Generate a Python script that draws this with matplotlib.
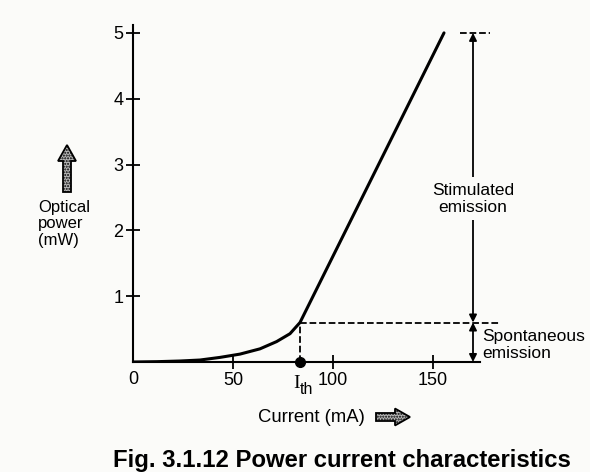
import numpy as np
import matplotlib.pyplot as plt
from matplotlib.patches import FancyArrow

plt.rcParams['font.family'] = ['Liberation Sans', 'DejaVu Sans']

# laser diode P-I curve (mA, mW)
current = [0, 12, 23.5, 33.5, 43.5, 53.5, 63.5, 71.8, 78.5, 83.5, 155.5]
power = [0, 0.005, 0.015, 0.03, 0.07, 0.12, 0.2, 0.31, 0.43, 0.6, 5.0]
i_th = 83.5
p_th = 0.6
p_top = 5.0
i_marker = 170
xticks = [0, 50, 100, 150]
yticks = [1, 2, 3, 4, 5]

bg = '#fbfbf9'
fig = plt.figure(figsize=(5.9, 4.72), dpi=100)
fig.patch.set_facecolor(bg)
ax = fig.add_axes([133/590, 110/472, 347/590, 337/472])
ax.set_facecolor('none')

ax.plot(current, power, 'k-', lw=2.2, solid_capstyle='round', solid_joinstyle='round')
ax.set_xlim(0, 173.5)
ax.set_ylim(0, 5.12)

for s in ['top', 'right']:
    ax.spines[s].set_visible(False)
for s in ['left', 'bottom']:
    ax.spines[s].set_linewidth(1.5)

ax.set_xticks(xticks[1:])
ax.set_xticklabels([str(v) for v in xticks[1:]])
ax.set_yticks(yticks)
ax.tick_params(direction='inout', length=10, width=1.3, labelsize=13, pad=2)
ax.text(0, -0.14, '0', ha='center', va='top', fontsize=13)

# threshold
ax.plot([i_th], [0], 'ko', ms=7, clip_on=False, zorder=5)
ax.plot([i_th, i_th], [0, p_th], 'k--', lw=1.3)
ax.plot([i_th, 183.5], [p_th, p_th], 'k--', lw=1.3, clip_on=False)
ax.plot([163.5, 178.5], [p_top, p_top], 'k--', lw=1.3, clip_on=False)
ax.text(i_th - 0.3, -0.2, 'I', ha='right', va='top', fontsize=14, family='Liberation Serif')
ax.text(i_th, -0.3, 'th', ha='left', va='top', fontsize=11.5)

# emission arrows
arr = dict(arrowstyle='<|-|>', color='k', lw=1.3, mutation_scale=11, shrinkA=0, shrinkB=0)
ax.annotate('', xy=(i_marker, 0), xytext=(i_marker, p_th), arrowprops=arr, annotation_clip=False)
ax.annotate('', xy=(i_marker, p_th), xytext=(i_marker, p_top), arrowprops=arr, annotation_clip=False)
ax.text(i_marker, 2.48, 'Stimulated\nemission', ha='center', va='center', fontsize=12.5,
        linespacing=1.15, bbox=dict(facecolor=bg, edgecolor='none', pad=4))
ax.text(174.5, 0.26, 'Spontaneous\nemission', ha='left', va='center', fontsize=12.5,
        linespacing=1.15, clip_on=False)

# axis labels with hatched arrows
fig.text(38/590, 1 - 200/472, 'Optical\npower\n(mW)', ha='left', va='top',
         fontsize=12, linespacing=1.12)
up = FancyArrow(67/590, 1 - 192/472, 0, 47/472, width=8/590, head_width=18/590,
                head_length=16/472, length_includes_head=True, transform=fig.transFigure,
                facecolor='#b8b8b8', edgecolor='k', hatch='......', lw=1.3)
fig.patches.append(up)
fig.text(258/590, 1 - 418/472, 'Current (mA)', ha='left', va='center', fontsize=13.3)
right = FancyArrow(376/590, 1 - 417/472, 34/590, 0, width=8/472, head_width=17/472,
                   head_length=15/590, length_includes_head=True, transform=fig.transFigure,
                   facecolor='#b8b8b8', edgecolor='k', hatch='......', lw=1.3)
fig.patches.append(right)

fig.text(113/590, 1 - 460/472, 'Fig. 3.1.12 Power current characteristics', ha='left',
         va='center', fontsize=17.2, fontweight='bold')

fig.savefig('out.png', dpi=100, facecolor=fig.get_facecolor())
